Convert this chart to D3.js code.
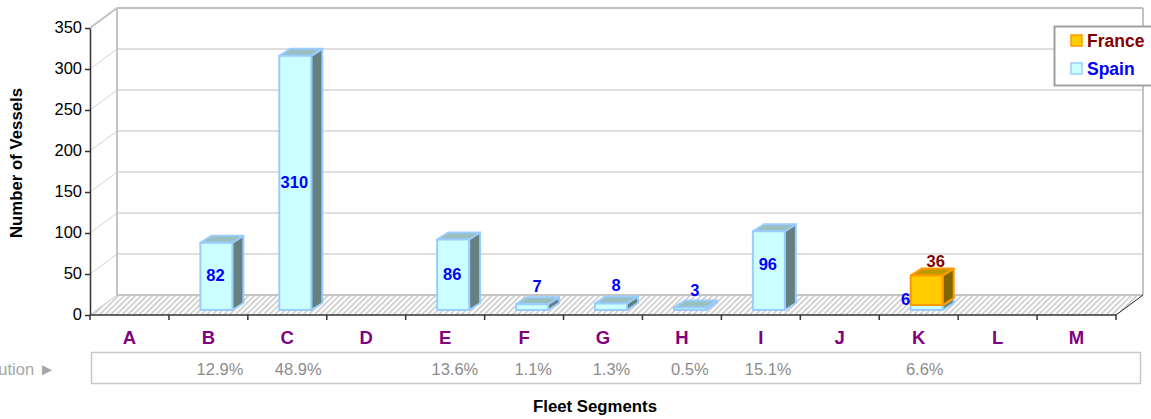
<!DOCTYPE html>
<html><head><meta charset="utf-8">
<style>html,body{margin:0;padding:0;background:#fff;overflow:hidden}svg{display:block}text{font-family:"Liberation Sans",Arial,sans-serif}</style>
<script src="https://cdn.jsdelivr.net/npm/d3@7"></script></head><body>
<script>
const categories=["A","B","C","D","E","F","G","H","I","J","K","L","M"];
const spain=[0,82,310,0,86,7,8,3,96,0,6,0,0];
const france=[0,0,0,0,0,0,0,0,0,0,36,0,0];
const shares=["","12.9%","48.9%","","13.6%","1.1%","1.3%","0.5%","15.1%","","6.6%","",""];
const yTicks=[0,50,100,150,200,250,300,350];
const seriesNames=["France","Spain"];

const W=1151,H=419,depthX=27,depthY=20;
const svg=d3.select("body").append("svg").attr("width",W).attr("height",H);
const x=d3.scaleBand().domain(categories).range([90,1116]).paddingInner(0).paddingOuter(0);
const xShare=d3.scaleBand().domain(categories).range([102.5,1120.5]);
const y=d3.scaleLinear().domain([0,350]).range([315,28]);

const defs=svg.append("defs");
const pat=defs.append("pattern").attr("id","hatch").attr("width",4).attr("height",4)
 .attr("patternUnits","userSpaceOnUse").attr("patternTransform","rotate(45)");
pat.append("rect").attr("width",4).attr("height",4).attr("fill","#fff");
pat.append("rect").attr("width",1.6).attr("height",4).attr("fill","#c9c9c9");

const x0=x.range()[0],x1=x.range()[1];
yTicks.forEach(t=>{
  if(t===0)return;
  svg.append("line").attr("x1",x0+depthX).attr("x2",x1+depthX).attr("y1",y(t)-depthY).attr("y2",y(t)-depthY)
    .attr("stroke",t===350?"#c0c0c0":"#d4d4d4").attr("stroke-width",t===350?2:1.5);
  svg.append("line").attr("x1",x0).attr("x2",x0+depthX).attr("y1",y(t)).attr("y2",y(t)-depthY)
    .attr("stroke",t===350?"#c0c0c0":"#d4d4d4").attr("stroke-width",t===350?2:1);
});
svg.append("line").attr("x1",x0+depthX).attr("x2",x0+depthX).attr("y1",y(350)-depthY).attr("y2",y(0)-depthY).attr("stroke","#c4c4c4").attr("stroke-width",2);
svg.append("line").attr("x1",x1+depthX).attr("x2",x1+depthX).attr("y1",y(350)-depthY).attr("y2",y(0)-depthY).attr("stroke","#c4c4c4").attr("stroke-width",2);
svg.append("path").attr("d",d3.line()([[x0,y(0)],[x0+depthX,y(0)-depthY],[x1+depthX,y(0)-depthY],[x1,y(0)]])+"Z").attr("fill","url(#hatch)");
svg.append("line").attr("x1",x0+depthX).attr("x2",x1+depthX).attr("y1",y(0)-depthY).attr("y2",y(0)-depthY).attr("stroke","#c4c4c4").attr("stroke-width",2);
svg.append("line").attr("x1",x0).attr("x2",x0+depthX).attr("y1",y(0)).attr("y2",y(0)-depthY).attr("stroke","#c4c4c4").attr("stroke-width",1);
svg.append("line").attr("x1",x1).attr("x2",x1+depthX).attr("y1",y(0)).attr("y2",y(0)-depthY).attr("stroke","#222").attr("stroke-width",1);

const ay=d3.axisLeft(y).tickValues(yTicks).tickSize(5).tickSizeOuter(0);
const gy=svg.append("g").attr("transform",`translate(${x0},0)`).call(ay);
gy.selectAll("text").attr("font-size",16.5).attr("fill","#000").attr("x",-8).attr("dy","0.3em");
gy.selectAll("line,path").attr("stroke","#333").attr("stroke-width",1.5);
const xEdges=categories.map(c=>x(c)).concat([x1]);
svg.append("line").attr("x1",x0).attr("x2",x1).attr("y1",y(0)).attr("y2",y(0)).attr("stroke","#333").attr("stroke-width",1.5);
svg.selectAll(".xt").data(xEdges).join("line").attr("x1",d=>d).attr("x2",d=>d).attr("y1",y(0)).attr("y2",y(0)+5).attr("stroke","#333").attr("stroke-width",1.5);
svg.selectAll(".cat").data(categories).join("text").attr("x",d=>x(d)+x.bandwidth()/2).attr("y",344)
  .attr("text-anchor","middle").attr("font-size",18.5).attr("font-weight","bold").attr("fill","#800080").text(d=>d);

const barW=32,barDx=11,barDy=7,baseDrop=5;
const py=v=>y(v)-baseDrop;
function box(cx,v0,v1,front,top,side,edge){
  const l=cx,r=cx+barW,t=py(v1),b=py(v0),g=svg.append("g").attr("stroke",edge).attr("stroke-width",2).attr("stroke-linejoin","round");
  g.append("path").attr("fill",side).attr("d",d3.line()([[r,t],[r+barDx,t-barDy],[r+barDx,b-barDy],[r,b]])+"Z");
  g.append("path").attr("fill",top).attr("d",d3.line()([[l,t],[l+barDx,t-barDy],[r+barDx,t-barDy],[r,t]])+"Z");
  g.append("rect").attr("x",l).attr("y",t).attr("width",barW).attr("height",b-t).attr("fill",front);
}
categories.forEach((c,i)=>{
  const l=x(c)+x.bandwidth()/2+8-barW/2;
  if(spain[i]>0) box(l,0,spain[i],"#ccffff","#99bfbf","#667f7f","#99ccff");
  if(france[i]>0) box(l,spain[i],spain[i]+france[i],"#ffcc00","#bf9900","#7f6600","#ff9900");
});
categories.forEach((c,i)=>{
  const cx=x(c)+x.bandwidth()/2+8;
  if(spain[i]>0){
    const small=spain[i]<20, tiny=spain[i]<10&&france[i]>0;
    svg.append("text").attr("font-size",16.5).attr("font-weight","bold").attr("fill","#0000ff")
      .attr("text-anchor","middle")
      .attr("x",tiny?cx-21:small?cx+5:cx-1)
      .attr("y",tiny?py(spain[i])+0:small?py(spain[i])-12:py(spain[i]/2)+(spain[i]===96?-1:5))
      .text(spain[i]);
  }
  if(france[i]>0){
    svg.append("text").attr("font-size",16.5).attr("font-weight","bold").attr("fill","#800000")
      .attr("text-anchor","middle").attr("x",cx+9).attr("y",py(spain[i]+france[i])-9).text(france[i]);
  }
});

svg.append("rect").attr("x",91.5).attr("y",352.5).attr("width",1049).attr("height",31).attr("fill","#fff").attr("stroke","#c8c8c8").attr("stroke-width",1.5);
svg.selectAll(".sh").data(categories).join("text").attr("x",d=>xShare(d)+xShare.bandwidth()/2).attr("y",375)
  .attr("text-anchor","middle").attr("font-size",16.5).attr("fill","#8c8c8c").text((d,i)=>shares[i]);
svg.append("text").attr("x",55).attr("y",375).attr("text-anchor","end").attr("font-size",16.5).attr("fill","#a6a6a6").text("Contribution ►");

svg.append("text").attr("transform","translate(22,163) rotate(-90)").attr("text-anchor","middle").attr("font-size",16.8).attr("font-weight","bold").text("Number of Vessels");
svg.append("text").attr("x",595).attr("y",412).attr("text-anchor","middle").attr("font-size",16.8).attr("font-weight","bold").text("Fleet Segments");

svg.append("rect").attr("x",1054.5).attr("y",26.5).attr("width",110).attr("height",59).attr("fill","#fff").attr("stroke","#a0a0a0").attr("stroke-width",2);
const legColors=[["#ffcc00","#ff9900","#800000"],["#ccffff","#99ccff","#0000ff"]];
seriesNames.forEach((n,i)=>{
  const ly=41+i*28;
  svg.append("rect").attr("x",1071).attr("y",ly-6).attr("width",11).attr("height",11).attr("fill",legColors[i][0]).attr("stroke",legColors[i][1]).attr("stroke-width",1.5);
  svg.append("text").attr("x",1087).attr("y",ly+6).attr("font-size",17.5).attr("font-weight","bold").attr("fill",legColors[i][2]).text(n);
});
</script></body></html>
